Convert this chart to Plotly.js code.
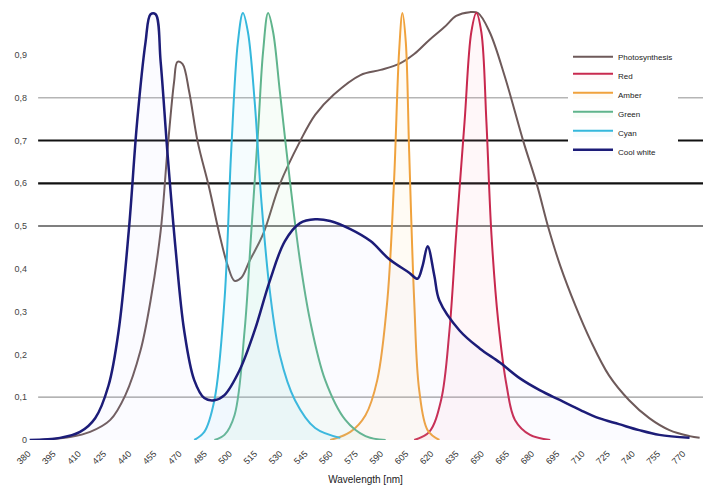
<!DOCTYPE html>
<html>
<head>
<meta charset="utf-8">
<script src="https://cdn.plot.ly/plotly-3.0.1.min.js"></script>
<style>html,body{margin:0;padding:0;background:#fff;}#chart{width:707px;height:497px;}</style>
</head>
<body>
<div id="chart"></div>
<script>
// ---- data (wavelength nm, relative intensity) ----
const photoX = [387,405,417,429,438,447,453,459,463,467,469,472,476,481,488,494,499,503,507,512,520,530,542,551,562,578,590,601,610,619,628,635,643,648,655,664,675,683,690,697,706,715,726,738,750,762,774,780];
const photoY = [0,0.007,0.019,0.047,0.105,0.209,0.326,0.488,0.674,0.837,0.884,0.879,0.814,0.698,0.588,0.481,0.407,0.372,0.379,0.419,0.481,0.598,0.698,0.76,0.807,0.853,0.865,0.879,0.902,0.935,0.965,0.991,1.0,0.998,0.953,0.849,0.698,0.598,0.495,0.407,0.314,0.233,0.151,0.093,0.051,0.023,0.009,0.005];

const redX = [610,619,626,631,635,640,644,647,650,653,656,660,665,670,679,691];
const redY = [0,0.019,0.093,0.256,0.481,0.744,0.953,0.998,0.953,0.744,0.481,0.279,0.128,0.047,0.012,0];

const amberX = [560,572,581,588,594,598,601,603,605,607,610,613,618,625];
const amberY = [0,0.019,0.058,0.14,0.326,0.605,0.907,0.998,0.93,0.674,0.326,0.116,0.023,0];

const greenX = [491,497,503,509,513,517,520,523,526,530,536,542,548,557,569,581,593];
const greenY = [0,0.012,0.058,0.256,0.488,0.721,0.907,0.998,0.953,0.814,0.605,0.419,0.279,0.14,0.047,0.009,0];

const cyanX = [479,485,491,497,501,505,508,511,515,519,524,530,539,551,566];
const cyanY = [0,0.019,0.093,0.326,0.674,0.93,0.998,0.953,0.791,0.558,0.349,0.198,0.093,0.028,0.005];

const whiteX = [381,399,411,420,428,434,440,445,450,453,456,459,463,468,473,479,485,491,497,506,515,524,533,542,551,560,572,584,595,607,612,615,618,622,625,637,649,661,673,685,697,709,720,732,744,756,774];
const whiteY = [0,0.005,0.019,0.051,0.128,0.256,0.488,0.744,0.93,0.995,0.995,0.884,0.674,0.442,0.256,0.14,0.098,0.093,0.105,0.163,0.256,0.372,0.465,0.507,0.516,0.512,0.493,0.465,0.423,0.391,0.377,0.407,0.453,0.384,0.326,0.256,0.214,0.181,0.144,0.116,0.093,0.07,0.051,0.037,0.023,0.012,0.005];

const seriesNames = ["Photosynthesis","Red","Amber","Green","Cyan","Cool white"];
const xTicks = [380,395,410,425,440,455,470,485,500,515,530,545,560,575,590,605,620,635,650,665,680,695,710,725,740,755,770];
const yTicks = [0,0.1,0.2,0.3,0.4,0.5,0.6,0.7,0.8,0.9];
const yTickText = ["0","0,1","0,2","0,3","0,4","0,5","0,6","0,7","0,8","0,9"];
const gridLevels = [0.1,0.5,0.6,0.7,0.8];

// ---- styling ----
const gridStyles = [
  {color:"#9a9a9a", width:1.2},
  {color:"#555555", width:1.5},
  {color:"#111111", width:2.2},
  {color:"#111111", width:2.2},
  {color:"#b5b5b5", width:1.5}
];

const traces = [
  {x:photoX, y:photoY, name:seriesNames[0], mode:"lines", line:{color:"#6e5a5a", width:2, shape:"spline"}},
  {x:redX, y:redY, name:seriesNames[1], mode:"lines", fill:"tozeroy", fillcolor:"rgba(255,150,180,0.08)", line:{color:"#c8284e", width:2, shape:"spline"}},
  {x:amberX, y:amberY, name:seriesNames[2], mode:"lines", fill:"tozeroy", fillcolor:"rgba(255,210,120,0.08)", line:{color:"#f0a23c", width:2, shape:"spline"}},
  {x:greenX, y:greenY, name:seriesNames[3], mode:"lines", fill:"tozeroy", fillcolor:"rgba(150,230,170,0.08)", line:{color:"#5fb48c", width:2, shape:"spline"}},
  {x:cyanX, y:cyanY, name:seriesNames[4], mode:"lines", fill:"tozeroy", fillcolor:"rgba(130,220,240,0.08)", line:{color:"#35b8dc", width:2, shape:"spline"}},
  {x:whiteX, y:whiteY, name:seriesNames[5], mode:"lines", fill:"tozeroy", fillcolor:"rgba(190,190,255,0.06)", line:{color:"#1c1c78", width:2.5, shape:"spline"}}
];

const shapes = gridLevels.map((v,i)=>({
  type:"line", xref:"paper", yref:"y", x0:0.015, x1:1, y0:v, y1:v,
  line:{color:gridStyles[i].color, width:gridStyles[i].width}, layer:"below"
}));

const layout = {
  width:707, height:497,
  margin:{l:28, r:4, t:10, b:57},
  paper_bgcolor:"#ffffff", plot_bgcolor:"#ffffff",
  font:{family:"Liberation Sans, Arial, sans-serif", size:9, color:"#333"},
  showlegend:true,
  legend:{x:0.8, y:0.925, xanchor:"left", yanchor:"top", bgcolor:"#ffffff",
          font:{size:8, color:"#222"}, tracegroupgap:0, itemwidth:40},
  xaxis:{range:[380,782], tickvals:xTicks, tickangle:-45, showgrid:false, zeroline:false,
         showline:false, ticks:"outside", ticklen:4, tickcolor:"rgba(0,0,0,0)", tickfont:{size:9, color:"#333"},
         title:{text:"Wavelength [nm]", font:{size:10, color:"#222"}, standoff:10}},
  yaxis:{range:[0,1.005], tickvals:yTicks, ticktext:yTickText, showgrid:false, zeroline:false,
         showline:false, ticks:"", tickfont:{size:9, color:"#444"}},
  shapes:shapes
};

Plotly.newPlot("chart", traces, layout, {staticPlot:true, displayModeBar:false});
</script>
</body>
</html>
